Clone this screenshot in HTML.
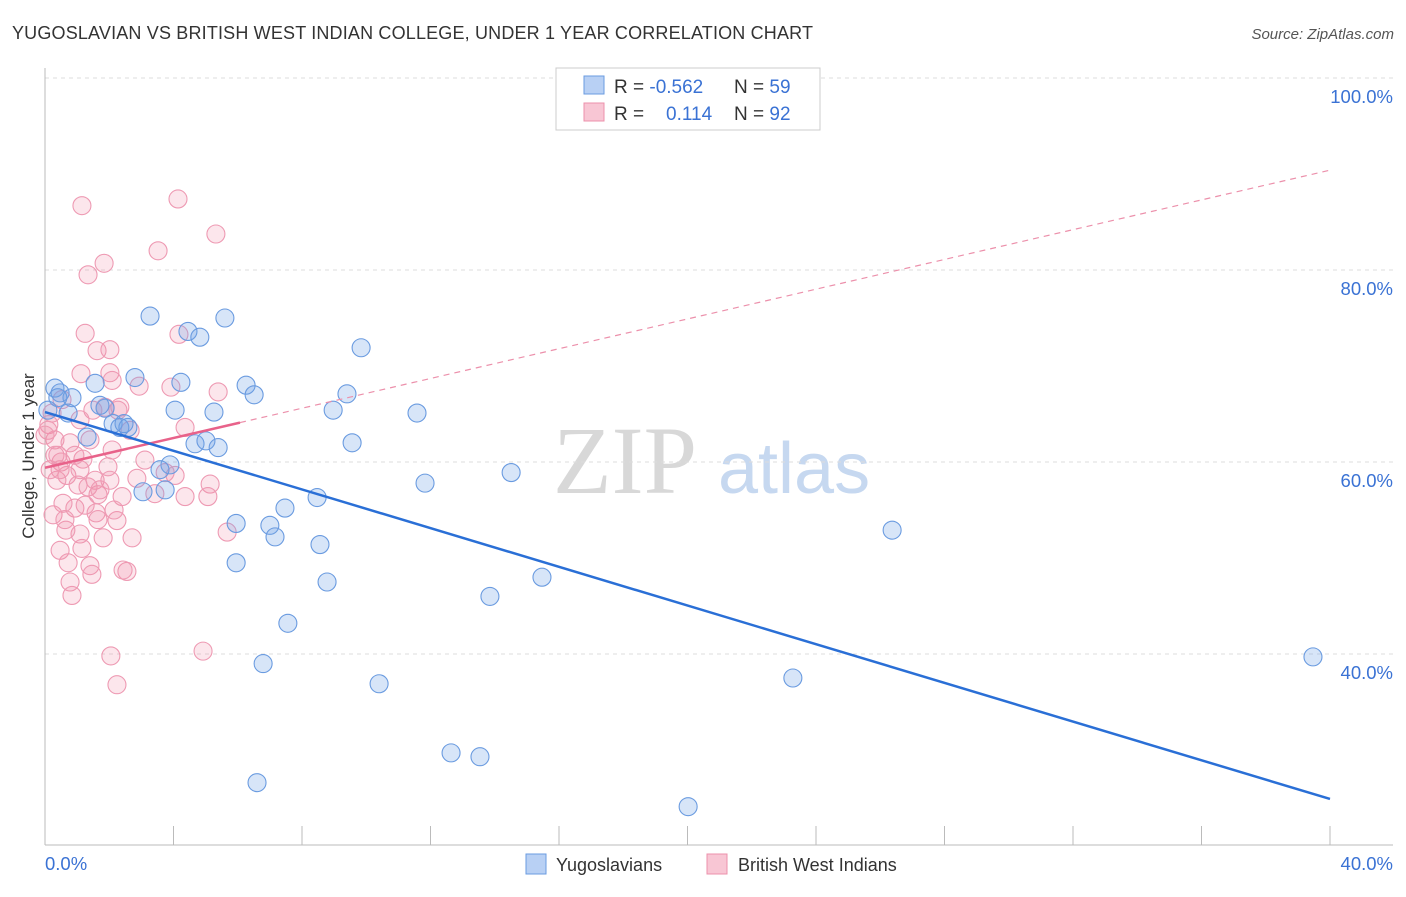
<!DOCTYPE html>
<html><head><meta charset="utf-8"><style>
body{margin:0;background:#fff;font-family:"Liberation Sans",sans-serif;}
svg text{font-family:"Liberation Sans",sans-serif;}
</style></head><body>
<svg width="1406" height="892" xmlns="http://www.w3.org/2000/svg" id="chart">
<text x="12" y="39" font-size="18" fill="#333" textLength="801">YUGOSLAVIAN VS BRITISH WEST INDIAN COLLEGE, UNDER 1 YEAR CORRELATION CHART</text>
<text x="1394" y="39" font-size="15" fill="#555" font-style="italic" text-anchor="end">Source: ZipAtlas.com</text>
<text x="553" y="493" font-size="96" fill="#d8d8d8" font-family="Liberation Serif" style="font-family:'Liberation Serif',serif">ZIP</text>
<text x="718" y="493" font-size="72" fill="#c6d8f0">atlas</text>
<text transform="translate(34,456) rotate(-90)" font-size="17" fill="#333" text-anchor="middle">College, Under 1 year</text>
<g id="grid"></g><g id="pts"></g><g id="lines"></g>
<g>
<rect x="556" y="68" width="264" height="62" fill="#fff" stroke="#ccc"/>
<rect x="584" y="76" width="20" height="18" fill="#b8d0f4" stroke="#6a9be0"/>
<rect x="584" y="103" width="20" height="18" fill="#f8c6d4" stroke="#ec90ab"/>
<text x="614" y="93" font-size="19" fill="#333">R = <tspan fill="#3a72d4">-0.562</tspan></text>
<text x="734" y="93" font-size="19" fill="#333">N = <tspan fill="#3a72d4">59</tspan></text>
<text x="614" y="120" font-size="19" fill="#333">R = </text>
<text x="666" y="120" font-size="19" fill="#3a72d4">0.114</text>
<text x="734" y="120" font-size="19" fill="#333">N = <tspan fill="#3a72d4">92</tspan></text>
</g>
<g>
<rect x="526" y="854" width="20" height="20" fill="#b8d0f4" stroke="#6a9be0"/>
<text x="556" y="871" font-size="18" fill="#333">Yugoslavians</text>
<rect x="707" y="854" width="20" height="20" fill="#f8c6d4" stroke="#ec90ab"/>
<text x="738" y="871" font-size="18" fill="#333">British West Indians</text>
</g>
</svg>
<script>
const yTicks=[100,80,60,40];
const yTickLabels=["100.0%","80.0%","60.0%","40.0%"];
const xTickVals=[4,8,12,16,20,24,28,32,36,40];
const xEndLabels=["0.0%","40.0%"];
const blueX=[0.31,0.47,0.72,0.84,1.56,1.31,1.87,2.12,2.33,2.58,2.80,3.27,3.05,3.89,4.05,4.23,4.45,4.82,4.67,5.01,5.26,5.39,5.60,5.95,5.95,6.26,6.51,6.79,6.60,7.00,7.16,7.47,7.56,8.47,8.56,8.78,8.97,9.40,9.56,9.84,10.40,11.58,11.83,12.64,13.54,13.85,14.51,15.47,20.02,23.28,26.37,39.47,3.58,2.46,1.71,0.09,0.40,3.74];
const blueY=[67.7,67.2,65.1,66.7,68.2,62.6,65.6,64.0,63.6,63.6,68.8,75.2,56.9,59.7,65.4,68.3,73.6,73.0,61.9,62.2,65.2,61.5,75.0,53.6,49.5,68.0,67.0,39.0,26.6,53.4,52.2,55.2,43.2,56.3,51.4,47.5,65.4,67.1,62.0,71.9,36.9,65.1,57.8,29.7,29.3,46.0,58.9,48.0,24.1,37.5,52.9,39.7,59.2,64.0,65.9,65.4,66.7,57.1];
const pinkX=[1.15,4.14,5.32,3.52,1.84,1.34,1.25,1.62,2.02,1.12,2.02,2.09,2.93,4.17,4.36,3.92,5.39,1.87,2.33,1.49,0.22,0.12,0.31,0.78,1.18,0.50,1.96,2.86,4.05,3.42,0.68,1.09,1.56,2.02,0.37,1.65,2.40,4.36,2.24,5.14,5.07,1.59,1.65,0.93,0.56,1.81,2.71,1.09,0.65,0.47,0.72,1.15,1.40,1.46,2.55,0.78,0.84,2.43,5.67,2.05,2.24,4.92,3.74,2.15,0.25,0.09,0.0,0.31,0.47,1.34,1.71,0.62,2.09,1.40,1.09,0.53,2.27,2.65,3.11,1.03,1.25,0.16,0.40,0.93];
const pinkY=[86.7,87.4,83.75,82.0,80.7,79.5,73.4,71.6,71.7,69.2,69.3,68.5,67.9,73.3,63.6,67.8,67.3,65.7,65.7,65.4,65.1,63.9,62.3,62.0,60.3,60.0,59.5,58.3,58.6,56.7,58.6,59.2,58.1,58.1,58.1,56.6,56.4,56.4,53.9,57.7,56.4,54.7,54.0,55.2,55.7,52.1,52.1,52.5,52.9,50.8,49.5,51.0,49.2,48.3,48.6,47.5,46.1,48.75,52.7,39.8,36.8,40.3,58.9,55.0,54.5,63.3,62.8,60.7,59.2,57.4,57.1,54.0,61.25,62.3,64.4,66.5,65.4,63.3,60.2,57.6,55.5,59.2,60.7,60.7];
const blueTrend=[65.2,24.9];
const pinkTrend=[59.4,90.4];
const pinkSolidEnd=6.07;
const NS="http://www.w3.org/2000/svg";
const X=v=>45+v*(1285/40), Y=v=>78+(100-v)*9.6;
function mk(t,a,p){const e=document.createElementNS(NS,t);for(const k in a)e.setAttribute(k,a[k]);p.appendChild(e);return e;}
const grid=document.getElementById('grid');
yTicks.forEach((t,i)=>{
 const l=mk('line',{x1:45,x2:1393,y1:Y(t),y2:Y(t),stroke:'#ddd','stroke-dasharray':'4,4'},grid);
 
 
 const tx=mk('text',{x:1393,y:Y(t)+25,'font-size':18.5,fill:'#3a72d4','text-anchor':'end'},grid);
 tx.textContent=yTickLabels[i];
 
 
});
const ax=mk('line',{x1:45,x2:1393,y1:845,y2:845,stroke:'#bbb'},grid);


const ay=mk('line',{x1:45,x2:45,y1:68,y2:845,stroke:'#bbb'},grid);


xTickVals.forEach(t=>{const l=mk('line',{x1:X(t),x2:X(t),y1:826,y2:845,stroke:'#bbb'},grid);
 
 });
const t0=mk('text',{x:45,y:870,'font-size':18.5,fill:'#3a72d4'},grid);t0.textContent=xEndLabels[0];


const t1=mk('text',{x:1393,y:870,'font-size':18.5,fill:'#3a72d4','text-anchor':'end'},grid);t1.textContent=xEndLabels[1];


const pts=document.getElementById('pts');
pinkX.forEach((x,i)=>{const c=mk('circle',{cx:X(x),cy:Y(pinkY[i]),r:9,fill:'rgba(242,140,170,0.22)',stroke:'#ee9ab3','stroke-width':1.1},pts);
 
 });
blueX.forEach((x,i)=>{const c=mk('circle',{cx:X(x),cy:Y(blueY[i]),r:9,fill:'rgba(110,160,230,0.28)',stroke:'#6a9be0','stroke-width':1.1},pts);
 
 });
const lines=document.getElementById('lines');
const pY=x=>pinkTrend[0]+(pinkTrend[1]-pinkTrend[0])*x/40;
const pd=mk('line',{x1:X(pinkSolidEnd),y1:Y(pY(pinkSolidEnd)),x2:X(40),y2:Y(pinkTrend[1]),stroke:'#ec90ab','stroke-width':1.2,'stroke-dasharray':'6,5'},lines);


const ps=mk('line',{x1:X(0),y1:Y(pinkTrend[0]),x2:X(pinkSolidEnd),y2:Y(pY(pinkSolidEnd)),stroke:'#e8628a','stroke-width':2.5},lines);


const bl=mk('line',{x1:X(0),y1:Y(blueTrend[0]),x2:X(40),y2:Y(blueTrend[1]),stroke:'#2a6fd6','stroke-width':2.5},lines);


</script>
</body></html>
